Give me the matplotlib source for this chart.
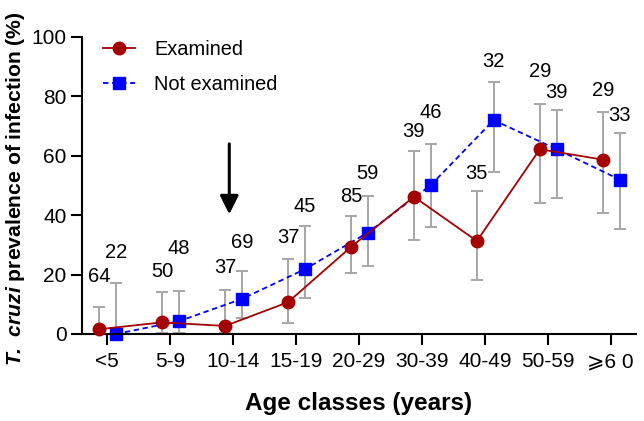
import numpy as np
import matplotlib.pyplot as plt

plt.rcParams["font.family"] = ["Liberation Sans", "DejaVu Sans"]
plt.rcParams["mathtext.fontset"] = "custom"
plt.rcParams["mathtext.bfit"] = "Liberation Sans:italic:bold"

# Data
age_classes = ["<5", "5-9", "10-14", "15-19", "20-29", "30-39", "40-49", "50-59", "\u2a7e6 0"]

exam_prev = [1.6, 3.9, 2.7, 10.7, 29.3, 46.2, 31.3, 62.2, 58.7]
exam_low = [0.0, 0.3, 0.4, 3.6, 20.6, 31.5, 18.3, 44.1, 40.8]
exam_high = [9.0, 14.0, 14.9, 25.2, 39.8, 61.5, 48.0, 77.5, 74.6]
exam_n = [64, 50, 37, 37, 85, 39, 35, 29, 29]

notex_prev = [0.0, 4.3, 11.8, 21.8, 34.1, 50.1, 72.0, 62.2, 52.0]
notex_low = [0.0, 0.4, 5.5, 12.2, 22.9, 36.0, 54.5, 45.9, 35.2]
notex_high = [17.3, 14.5, 21.3, 36.4, 46.6, 64.0, 84.8, 75.3, 67.6]
notex_n = [22, 48, 69, 45, 59, 46, 32, 39, 33]

# heights of the sample-size labels
exam_label_y = [19.5, 21.1, 22.5, 32.6, 46.3, 68.1, 54.0, 88.3, 81.9]
notex_label_y = [27.5, 28.9, 30.9, 43.0, 54.0, 74.5, 91.9, 81.2, 73.5]

red = "#a50000"
blue = "#0000ff"
grey = "#a6a6a6"

x = np.arange(len(age_classes))
x_exam = x - 0.127
x_notex = x + 0.14

fig = plt.figure(figsize=(6.44, 4.21), dpi=100)
ax = fig.add_axes([0.1273, 0.2067, 0.8602, 0.7055])

exam_prev = np.array(exam_prev)
notex_prev = np.array(notex_prev)
exam_err = [exam_prev - np.array(exam_low), np.array(exam_high) - exam_prev]
notex_err = [notex_prev - np.array(notex_low), np.array(notex_high) - notex_prev]

ax.errorbar(x_exam, exam_prev, yerr=exam_err, fmt="none", ecolor=grey,
            elinewidth=1.4, capsize=4.5, capthick=1.4, zorder=1, clip_on=False)
ax.errorbar(x_notex, notex_prev, yerr=notex_err, fmt="none", ecolor=grey,
            elinewidth=1.4, capsize=4.5, capthick=1.4, zorder=1, clip_on=False)

ax.plot(x_exam, exam_prev, color=red, lw=1.3, marker="o", markersize=9,
        label="Examined", zorder=3, clip_on=False)
ax.plot(x_notex, notex_prev, color=blue, lw=1.3, ls=(0, (3, 2)), marker="s",
        markersize=9, label="Not examined", zorder=2, clip_on=False)

for xi, yi, n in zip(x_exam, exam_label_y, exam_n):
    ax.text(xi, yi, str(n), ha="center", va="center", fontsize=14.5)
for xi, yi, n in zip(x_notex, notex_label_y, notex_n):
    ax.text(xi, yi, str(n), ha="center", va="center", fontsize=14.5)

# arrow marking the 10-14 class
ax.annotate("", xy=(1.94, 40.3), xytext=(1.94, 64.0),
            arrowprops=dict(arrowstyle="-|>", color="black", lw=2.2,
                            mutation_scale=28, shrinkA=0, shrinkB=0))

ax.set_xlim(-0.40, 8.40)
ax.set_ylim(0, 100)
ax.set_xticks(x)
ax.set_xticklabels(age_classes, fontsize=15)
ax.set_yticks([0, 20, 40, 60, 80, 100])
ax.tick_params(axis="y", labelsize=15, width=1.5, length=8, pad=3)
ax.tick_params(axis="x", width=1.5, length=8, pad=5)
for side in ["top", "right"]:
    ax.spines[side].set_visible(False)
for side in ["left", "bottom"]:
    ax.spines[side].set_linewidth(1.5)

ax.set_xlabel("Age classes (years)", fontsize=17.5, fontweight="bold", labelpad=15)
ax.set_ylabel(r"$\mathbfit{T.\ cruzi}$ prevalence of infection (%)",
              fontsize=15.2, fontweight="bold")
ax.yaxis.set_label_coords(-0.10, 0.49)

ax.legend(loc="upper left", frameon=False, fontsize=14.4, handlelength=1.6,
          handletextpad=0.95, borderpad=0, borderaxespad=0,
          bbox_to_anchor=(0.038, 0.99), labelspacing=0.78)

plt.savefig("out.png", dpi=100)
